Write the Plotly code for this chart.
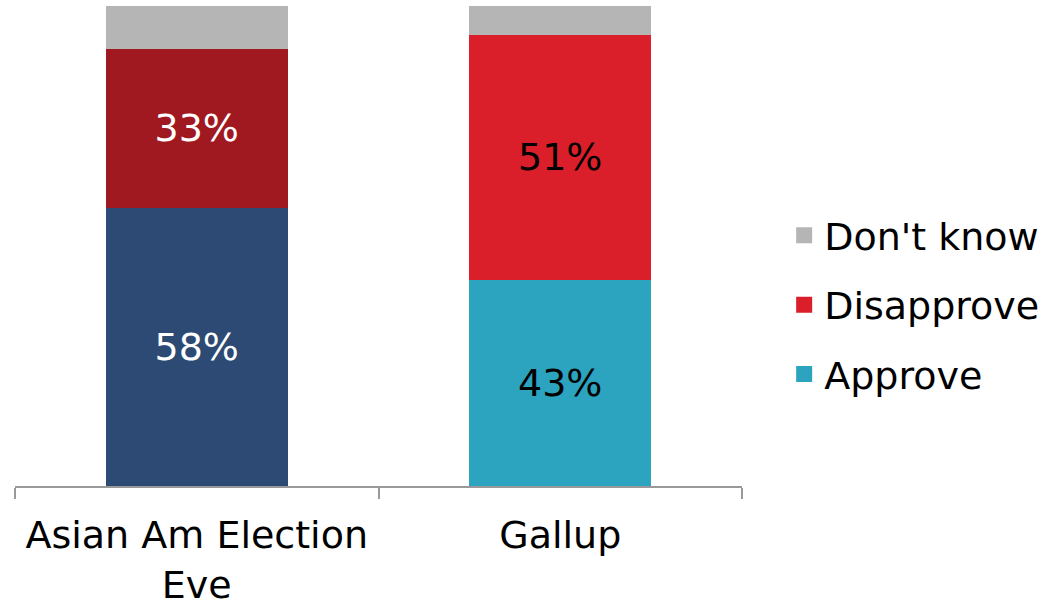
import plotly.graph_objects as go

categories = ["Asian Am Election<br>Eve", "Gallup"]
approve = [58, 43]
disapprove = [33, 51]
dont_know = [9, 6]

approve_colors = ["#2C4A73", "#2CA3BF"]
disapprove_colors = ["#A11920", "#DB1F2A"]
dk_colors = ["#B5B5B5", "#B5B5B5"]
label_colors = ["#FFFFFF", "#000000"]

FONT = "DejaVu Sans"
FS = 38

fig = go.Figure()
fig.add_trace(go.Bar(x=categories, y=approve, name="Approve", marker=dict(color=approve_colors, line=dict(width=0)),
                     texttemplate="%{y}%", textposition="inside", insidetextanchor="middle",
                     textfont=dict(color=label_colors, size=FS, family=FONT), constraintext="none",
                     showlegend=False))
fig.add_trace(go.Bar(x=categories, y=disapprove, name="Disapprove", marker=dict(color=disapprove_colors, line=dict(width=0)),
                     texttemplate="%{y}%", textposition="inside", insidetextanchor="middle",
                     textfont=dict(color=label_colors, size=FS, family=FONT), constraintext="none",
                     showlegend=False))
fig.add_trace(go.Bar(x=categories, y=dont_know, name="Don't know", marker=dict(color=dk_colors, line=dict(width=0)),
                     textposition="none", showlegend=False))

# legend entries (Gallup colours, as in the original legend), top to bottom
for name, col, grp in [("Don't know", dk_colors[1], "a"), ("Disapprove", disapprove_colors[1], "b"), ("Approve", approve_colors[1], "c")]:
    fig.add_trace(go.Scatter(x=[None], y=[None], mode="markers", name=name, legendgroup=grp,
                             marker=dict(symbol="square", size=24, color=col)))

fig.update_layout(
    width=1048, height=608,
    barmode="stack", bargap=0.5,
    paper_bgcolor="white", plot_bgcolor="white",
    margin=dict(l=15, r=306, t=6, b=122, autoexpand=False),
    font=dict(family=FONT, size=FS, color="black"),
    legend=dict(x=1.058, xanchor="left", y=0.377, yanchor="middle", traceorder="grouped",
                tracegroupgap=17, itemsizing="trace", font=dict(size=FS, family=FONT),
                bgcolor="rgba(0,0,0,0)"),
    xaxis=dict(showline=True, linecolor="#999999", linewidth=1.5, ticks="outside", ticklen=11,
               tickcolor="#999999", tickwidth=1.5, tickson="boundaries", ticklabelstandoff=15,
               tickfont=dict(size=FS, family=FONT, color="black"), showgrid=False, automargin=False),
    yaxis=dict(range=[0, 100], visible=False, showgrid=False, automargin=False),
)

fig.write_html("out.html", config={"displayModeBar": False},
               post_script="document.body.style.margin='0';")
